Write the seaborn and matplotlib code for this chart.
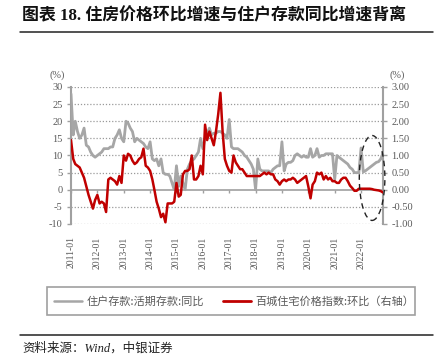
import numpy as np
import pandas as pd
import matplotlib
matplotlib.use('Agg')
import matplotlib.pyplot as plt
import matplotlib.dates as mdates
from matplotlib.patches import Ellipse, Rectangle
from matplotlib.lines import Line2D
import seaborn as sns

# ---------------- data ----------------
start_month = '2011-01-01'
n_months = 143  # 2011-01 .. 2022-11

deposit_yoy = [
    28, 16, 20, 17, 15, 16, 18, 13, 12.5, 11, 10, 9.5,            # 2011
    10, 10.5, 11, 12, 12, 12, 12.5, 12.5, 15, 16, 17.5, 15,        # 2012
    14, 20, 19.5, 18, 17, 14, 15, 14.5, 14, 13.5, 12.5, 12,        # 2013
    14, 9, 8.5, 9, 7, 9, 5, 4.5, 4.5, 4, 2, 0,                     # 2014
    7, 1, 4, 2, 0, 6, 7.5, 8.5, 9, 10, 11, 15,                     # 2015
    12, 15, 16.5, 18, 16, 16.5, 16.5, 17, 17, 16.5, 16, 15,        # 2016
    20.5, 12.5, 12, 12, 12, 11.5, 11, 10, 9.5, 8.5, 7.5, 6,        # 2017
    0, 9, 6, 5.5, 5.5, 5.5, 5.5, 5, 6, 6.5, 7, 7,                  # 2018
    14, 5.5, 7.5, 8, 8, 8.5, 10, 10.5, 10, 9.5, 10, 9.5,           # 2019
    9.5, 12, 9.5, 10, 12, 9.5, 10, 10, 10.5, 10.5, 10.5, 10.5,     # 2020
    3, 10, 9.5, 9, 8.5, 8, 7.5, 6.5, 6, 5, 5, 5,                   # 2021
    12.2, 5.2, 5.5, 6, 6.5, 7, 7.5, 8, 8.2, 9, 10.7,               # 2022
]

price_mom = [
    1.45, 0.90, 0.75, 0.70, 0.65, 0.50, 0.35, 0.10, -0.15, -0.35, -0.55, -0.30,   # 2011
    -0.15, -0.40, -0.35, -0.40, -0.65, 0.30, 0.35, 0.30, 0.25, 0.15, 0.40, 0.20,  # 2012
    1.00, 0.85, 1.05, 1.00, 0.85, 0.75, 0.80, 0.90, 0.95, 1.20, 0.70, 0.65,       # 2013
    0.55, 0.30, 0.00, -0.35, -0.55, -0.80, -0.70, -0.95, -0.40, -0.40, -0.40, -0.35,  # 2014
    0.20, -0.20, -0.15, 0.45, 0.55, 0.55, 0.60, 1.00, 0.30, 0.30, 0.40, 0.70,     # 2015
    0.45, 1.90, 1.45, 1.70, 1.50, 1.30, 1.70, 2.20, 2.83, 1.70, 0.90, 0.70,       # 2016
    0.55, 0.50, 1.00, 0.80, 0.70, 0.60, 0.60, 0.50, 0.40, 0.40, 0.40, 0.40,       # 2017
    0.40, 0.40, 0.40, 0.45, 0.50, 0.45, 0.50, 0.45, 0.45, 0.30, 0.25, 0.15,       # 2018
    0.25, 0.30, 0.25, 0.30, 0.30, 0.35, 0.30, 0.20, 0.25, 0.30, 0.35, 0.40,       # 2019
    0.10, -0.25, 0.15, 0.25, 0.50, 0.45, 0.50, 0.30, 0.40, 0.30, 0.35, 0.25,      # 2020
    0.25, 0.20, 0.20, 0.30, 0.35, 0.35, 0.25, 0.12, 0.05, -0.03, -0.03, 0.03,     # 2021
    0.03, 0.03, 0.03, 0.03, 0.03, 0.02, 0.00, -0.01, -0.02, -0.04, -0.08,         # 2022
]

left_ticks = [-10, -5, 0, 5, 10, 15, 20, 25, 30]
right_ticks = [-1.0, -0.5, 0.0, 0.5, 1.0, 1.5, 2.0, 2.5, 3.0]
tick_years = list(range(2011, 2023))

title_text = '图表 18. 住房价格环比增速与住户存款同比增速背离'
label_deposit = '住户存款:活期存款:同比'
label_price = '百城住宅价格指数:环比（右轴）'
source_text = '资料来源：Wind，中银证券'

dates = pd.date_range(start_month, periods=n_months, freq='MS')
df = pd.DataFrame({'date': dates, 'deposit': deposit_yoy, 'price': price_mom})

# ---------------- style ----------------
sns.set_theme(style='white')
plt.rcParams['font.family'] = ['Liberation Serif', 'Noto Sans CJK SC', 'DejaVu Sans']
plt.rcParams['axes.unicode_minus'] = False

GRAY = '#A6A6A6'
RED = '#C00000'
TXT = '#595959'
AX = '#A0A0A0'

fig = plt.figure(figsize=(4.39, 3.61), dpi=100)
W, H = 439, 361
ax = fig.add_axes([71 / W, 1 - 224 / H, 312 / W, 137 / H])

sns.lineplot(data=df, x='date', y='deposit', ax=ax, color=GRAY, lw=2.0, zorder=3)
ax2 = ax.twinx()
sns.lineplot(data=df, x='date', y='price', ax=ax2, color=RED, lw=1.8, zorder=4)

ax.set_ylim(-10, 30)
ax2.set_ylim(-1, 3)
ax.set_xlim(dates[0], dates[-1])
ax.set_yticks(left_ticks)
ax.set_yticklabels([str(t) for t in left_ticks])
ax2.set_yticks(right_ticks)
ax2.set_yticklabels([f'{t:.2f}' for t in right_ticks])
ax.set_xlabel('')
ax.set_ylabel('')
ax2.set_ylabel('')

tick_dates = [pd.Timestamp(f'{y}-01-01') for y in tick_years]
ax.set_xticks(tick_dates)
ax.set_xticklabels([d.strftime('%Y-%m') for d in tick_dates], rotation=90)

# grid
for t in left_ticks:
    if t == 0:
        continue
    ax.axhline(t, color='#9A9A9A', lw=0.9, ls=(0, (1, 1.5)), zorder=1)
ax.axhline(0, color=AX, lw=1.2, zorder=2)
ax.vlines(tick_dates, -0.9, 0, color=AX, lw=1.0, zorder=2)

for a in (ax, ax2):
    for s in ('top', 'bottom'):
        a.spines[s].set_visible(False)
ax.spines['left'].set_visible(True)
ax.spines['right'].set_visible(False)
ax2.spines['left'].set_visible(False)
ax2.spines['right'].set_visible(True)
ax.spines['left'].set_color(AX)
ax.spines['left'].set_linewidth(1.5)
ax2.spines['right'].set_color(AX)
ax2.spines['right'].set_linewidth(1.5)

ax.tick_params(axis='y', which='both', left=True, length=3, width=1, color=AX,
               labelsize=7.5, labelcolor=TXT, pad=3)
ax2.tick_params(axis='y', which='both', right=True, length=3, width=1, color=AX,
                labelsize=7.5, labelcolor=TXT, pad=3)
ax.tick_params(axis='x', bottom=False, length=0, labelsize=7, labelcolor=TXT, pad=9)
ax.set_facecolor('none')
ax2.set_facecolor('none')

# unit labels
fig.text(57 / W, 1 - 75 / H, '(%)', ha='center', va='center', fontsize=7.5, color=TXT)
fig.text(397 / W, 1 - 75 / H, '(%)', ha='center', va='center', fontsize=7.5, color=TXT)

# dashed ellipse highlighting recent divergence
ell = Ellipse((0.965, 0.336), 0.082, 0.62, transform=ax.transAxes, fill=False,
              ls=(0, (4, 3)), lw=1.0, ec='#222222', clip_on=False, zorder=6)
ax2.add_patch(ell)

# legends from axes removed, one figure legend
for a in (ax, ax2):
    lg = a.get_legend()
    if lg is not None:
        lg.remove()
handles = [Line2D([], [], color=GRAY, lw=1.8), Line2D([], [], color=RED, lw=2.0)]
leg = fig.legend(handles, [label_deposit, label_price], loc='center',
                 bbox_to_anchor=(234 / W, 1 - 301 / H), ncol=2, frameon=False,
                 handlelength=2.5, handletextpad=0.4, columnspacing=1.7,
                 prop={'family': ['Noto Sans CJK SC'], 'size': 8.0})
for t in leg.get_texts():
    t.set_color(TXT)
fig.add_artist(Rectangle((47 / W, 1 - 315 / H), 368 / W, 28 / H, transform=fig.transFigure,
                         fill=False, ec='#A0A0A0', lw=1.2))

# title & rules
fig.text(22 / W, 1 - 16 / H, title_text, ha='left', va='center', fontsize=12.2,
         fontweight='bold', color='#111111',
         family=['Liberation Serif', 'Noto Sans CJK SC'])
fig.add_artist(Line2D([20 / W, 433 / W], [1 - 31.5 / H, 1 - 31.5 / H], color='#222222', lw=1.1))
fig.add_artist(Line2D([20 / W, 433 / W], [1 - 335 / H, 1 - 335 / H], color='#222222', lw=1.1))
fig.text(22 / W, 1 - 348 / H, source_text, ha='left', va='center', fontsize=9,
         style='italic', color='#222222', family=['Liberation Serif', 'Noto Sans CJK SC'])

fig.savefig('out.png', dpi=100, facecolor='white')
